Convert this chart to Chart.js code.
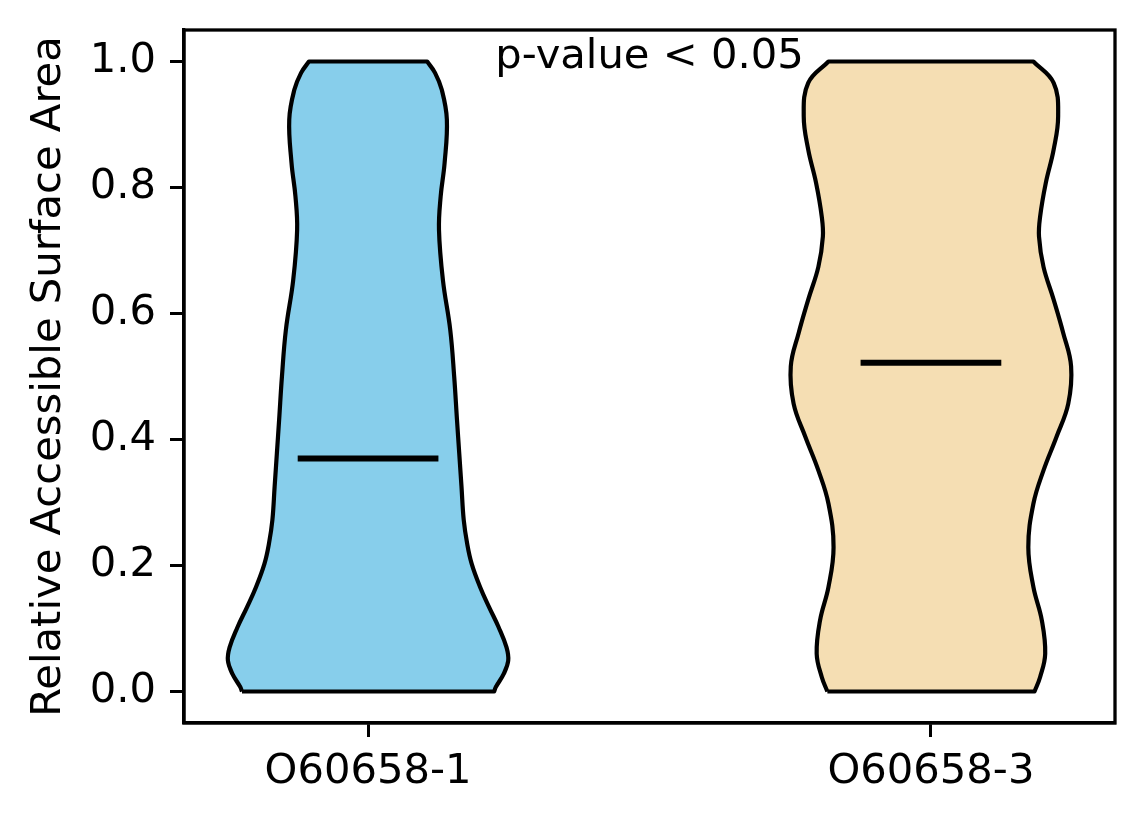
<!DOCTYPE html>
<html>
<head>
<meta charset="utf-8">
<script src="https://cdn.jsdelivr.net/npm/chart.js@4.4.1/dist/chart.umd.min.js"></script>
<style>
    html, body { margin: 0; padding: 0; background: #fff; }
    #wrap { width: 1144px; height: 824px; }
</style>
</head>
<body>
<div id="wrap"><canvas id="chart"></canvas></div>
<script>
// categorias y posiciones en el eje x
const categorias = ["O60658-1", "O60658-3"];
const posiciones = [1, 2];
const medianas = [0.37, 0.522];
const colores = ["#87CEEB", "#F5DEB3"];

// perfil del violin: nivel y  -> semi-ancho (unidades del eje x)
const violin1Y = [0, 0.007, 0.028, 0.049, 0.070, 0.102, 0.134, 0.166, 0.203, 0.235, 0.272, 0.325, 0.378, 0.431, 0.5, 0.574, 0.653, 0.733, 0.786, 0.839, 0.908, 0.955, 0.982, 1.0];
const violin1W = [0.224, 0.227, 0.241, 0.249, 0.246, 0.232, 0.215, 0.199, 0.184, 0.176, 0.170, 0.166, 0.162, 0.158, 0.153, 0.146, 0.133, 0.126, 0.129, 0.136, 0.140, 0.131, 0.119, 0.105];

const violin2Y = [0, 0.023, 0.060, 0.113, 0.166, 0.229, 0.298, 0.351, 0.404, 0.457, 0.516, 0.569, 0.622, 0.674, 0.722, 0.754, 0.807, 0.860, 0.913, 0.966, 1.0];
const violin2W = [0.184, 0.194, 0.203, 0.197, 0.182, 0.173, 0.182, 0.200, 0.223, 0.244, 0.249, 0.235, 0.218, 0.200, 0.192, 0.194, 0.204, 0.218, 0.226, 0.218, 0.182];

const ticksY = [0, 0.2, 0.4, 0.6, 0.8, 1.0];
const anchoMediana = 0.125;
const textoP = "p-value < 0.05";

const FUENTE = "'DejaVu Sans', sans-serif";
const TAM = 41.7;

// contorno cerrado: lado izquierdo hacia arriba, lado derecho hacia abajo.
// Las esquinas se repiten para que los bordes planos queden rectos con tension.
const contorno = (pos, ys, ws) => {
    const izq = ys.map((y, i) => ({ x: pos - ws[i], y }));
    const der = ys.map((y, i) => ({ x: pos + ws[i], y })).reverse();
    const n = izq.length;
    return [...izq, izq[n - 1], der[0], ...der, der[n - 1], izq[0]];
};

const perfiles = [[violin1Y, violin1W], [violin2Y, violin2W]];

const datasets = [];
perfiles.forEach(([ys, ws], i) => {
    datasets.push({
        data: contorno(posiciones[i], ys, ws),
        showLine: true,
        fill: "shape",
        backgroundColor: colores[i],
        borderColor: "#000",
        borderWidth: 4.2,
        borderJoinStyle: "round",
        pointRadius: 0,
        tension: 0.4,
        order: 2
    });
    datasets.push({
        data: [
            { x: posiciones[i] - anchoMediana, y: medianas[i] },
            { x: posiciones[i] + anchoMediana, y: medianas[i] }
        ],
        showLine: true,
        fill: false,
        borderColor: "#000",
        borderWidth: 6,
        pointRadius: 0,
        order: 1
    });
});

// marco completo y texto del p-valor
const marco = {
    id: "marco",
    afterDraw(chart) {
        const { ctx, chartArea: a, scales } = chart;
        ctx.save();
        ctx.strokeStyle = "#000";
        ctx.lineWidth = 3.3;
        ctx.strokeRect(a.left, a.top, a.right - a.left, a.bottom - a.top);
        ctx.fillStyle = "#000";
        ctx.font = TAM + "px " + FUENTE;
        ctx.textAlign = "center";
        ctx.textBaseline = "alphabetic";
        ctx.fillText(textoP, (a.left + a.right) / 2, scales.y.getPixelForValue(0.99));
        ctx.restore();
    }
};

new Chart(document.getElementById("chart"), {
    type: "scatter",
    data: { datasets },
    plugins: [marco],
    options: {
        responsive: true,
        maintainAspectRatio: false,
        animation: false,
        devicePixelRatio: 1,
        layout: { padding: { top: 30, right: 29, left: 0, bottom: 0 } },
        plugins: {
            legend: { display: false },
            tooltip: { enabled: false }
        },
        scales: {
            x: {
                type: "linear",
                min: 0.673,
                max: 2.327,
                afterBuildTicks: (s) => { s.ticks = posiciones.map(v => ({ value: v })); },
                afterFit: (s) => { s.height = 101; s.paddingLeft = 0; s.paddingRight = 0; },
                ticks: {
                    color: "#000",
                    font: { family: FUENTE, size: TAM },
                    padding: 10,
                    maxRotation: 0,
                    callback: (v) => categorias[posiciones.indexOf(v)]
                },
                grid: {
                    drawOnChartArea: false,
                    drawTicks: true,
                    tickLength: 14,
                    tickWidth: 3,
                    tickColor: "#000"
                },
                border: { display: true, color: "#000", width: 3.3 }
            },
            y: {
                min: -0.05,
                max: 1.05,
                afterBuildTicks: (s) => { s.ticks = ticksY.map(v => ({ value: v })); },
                afterFit: (s) => { s.width = 184; s.paddingTop = 0; s.paddingBottom = 0; },
                ticks: {
                    color: "#000",
                    font: { family: FUENTE, size: TAM },
                    padding: 14,
                    callback: (v) => v.toFixed(1)
                },
                grid: {
                    drawOnChartArea: false,
                    drawTicks: true,
                    tickLength: 14,
                    tickWidth: 3,
                    tickColor: "#000"
                },
                border: { display: true, color: "#000", width: 3.3 },
                title: {
                    display: true,
                    text: "Relative Accessible Surface Area",
                    color: "#000",
                    font: { family: FUENTE, size: TAM },
                    padding: { top: 24, bottom: 0 }
                }
            }
        }
    }
});
</script>
</body>
</html>
